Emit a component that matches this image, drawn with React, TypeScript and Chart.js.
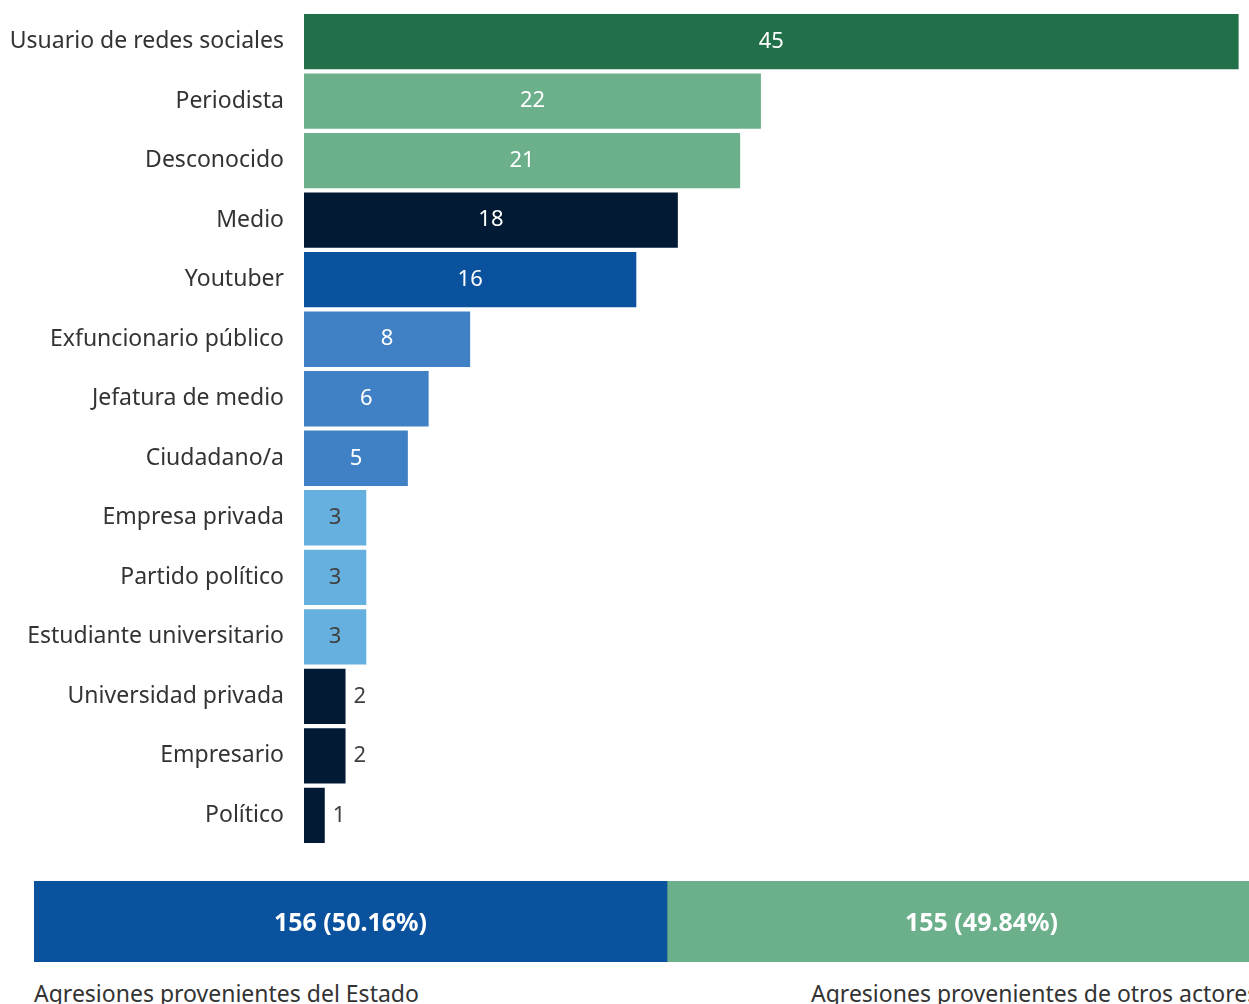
import React, { useEffect, useRef } from "react";
import { Chart, registerables } from "chart.js";

Chart.register(...registerables);

const categories = [
  "Usuario de redes sociales",
  "Periodista",
  "Desconocido",
  "Medio",
  "Youtuber",
  "Exfuncionario público",
  "Jefatura de medio",
  "Ciudadano/a",
  "Empresa privada",
  "Partido político",
  "Estudiante universitario",
  "Universidad privada",
  "Empresario",
  "Político",
];
const values = [45, 22, 21, 18, 16, 8, 6, 5, 3, 3, 3, 2, 2, 1];
const barColors = [
  "#22704A",
  "#6BAF8B",
  "#6BAF8B",
  "#021A33",
  "#0A529E",
  "#4080C4",
  "#4080C4",
  "#4080C4",
  "#66B0E0",
  "#66B0E0",
  "#66B0E0",
  "#021A33",
  "#021A33",
  "#021A33",
];
const darkTextBars = ["#66B0E0"];

const groupNames = ["Agresiones provenientes del Estado", "Agresiones provenientes de otros actores"];
const groupTotals = [156, 155];
const groupLabels = ["156 (50.16%)", "155 (49.84%)"];
const groupColors = ["#0A529E", "#6BAF8B"];

const FONT = "'Noto Sans', 'Open Sans', sans-serif";

const valueLabelPlugin = {
  id: "valueLabels",
  afterDatasetsDraw(chart: any) {
    const ctx = chart.ctx;
    const meta = chart.getDatasetMeta(0);
    ctx.save();
    ctx.font = `22px ${FONT}`;
    ctx.textBaseline = "middle";
    meta.data.forEach((bar: any, i: number) => {
      const p = bar.getProps(["x", "y", "base"], true);
      const w = p.x - p.base;
      const txt = String(values[i]);
      if (w > 50) {
        ctx.textAlign = "center";
        ctx.fillStyle = darkTextBars.includes(barColors[i]) ? "#404040" : "#FFFFFF";
        ctx.fillText(txt, (p.x + p.base) / 2, p.y);
      } else {
        ctx.textAlign = "left";
        ctx.fillStyle = "#404040";
        ctx.fillText(txt, p.x + 8, p.y);
      }
    });
    ctx.restore();
  },
};

const totalLabelPlugin = {
  id: "totalLabels",
  afterDatasetsDraw(chart: any) {
    const ctx = chart.ctx;
    ctx.save();
    ctx.font = `bold 25px ${FONT}`;
    ctx.textAlign = "center";
    ctx.textBaseline = "middle";
    ctx.fillStyle = "#FFFFFF";
    chart.data.datasets.forEach((_ds: any, di: number) => {
      const bar = chart.getDatasetMeta(di).data[0];
      const p = bar.getProps(["x", "y", "base"], true);
      ctx.fillText(groupLabels[di], (p.x + p.base) / 2, p.y + 2);
    });
    ctx.restore();
  },
};

export default function App() {
  const topRef = useRef<HTMLCanvasElement>(null);
  const botRef = useRef<HTMLCanvasElement>(null);

  useEffect(() => {
    const top = new Chart(topRef.current!, {
      type: "bar",
      data: {
        labels: categories,
        datasets: [
          {
            data: values,
            backgroundColor: barColors,
            borderWidth: 0,
            barPercentage: 0.93,
            categoryPercentage: 1,
          },
        ],
      },
      options: {
        indexAxis: "y",
        animation: false,
        responsive: false,
        maintainAspectRatio: false,
        layout: { padding: { top: 12, bottom: 15, left: 0, right: 0 } },
        plugins: { legend: { display: false }, tooltip: { enabled: false } },
        scales: {
          x: { display: false, min: 0, max: 45.5 },
          y: {
            grid: { display: false, drawTicks: false },
            border: { display: false },
            ticks: {
              padding: 20,
              color: "#333333",
              font: { family: FONT, size: 23 },
            },
            afterFit(scale: any) {
              scale.width = 304;
            },
          },
        },
      },
      plugins: [valueLabelPlugin],
    });

    const bot = new Chart(botRef.current!, {
      type: "bar",
      data: {
        labels: [""],
        datasets: groupTotals.map((v, i) => ({
          label: groupNames[i],
          data: [v],
          backgroundColor: groupColors[i],
          borderWidth: 0,
          barPercentage: 1,
          categoryPercentage: 1,
        })),
      },
      options: {
        indexAxis: "y",
        animation: false,
        responsive: false,
        maintainAspectRatio: false,
        layout: { padding: 0 },
        plugins: { legend: { display: false }, tooltip: { enabled: false } },
        scales: {
          x: { display: false, stacked: true, min: 0, max: groupTotals[0] + groupTotals[1] },
          y: { display: false, stacked: true },
        },
      },
      plugins: [totalLabelPlugin],
    });

    return () => {
      top.destroy();
      bot.destroy();
    };
  }, []);

  return (
    <div
      style={{
        position: "absolute",
        left: 0,
        top: 0,
        width: 1249,
        height: 1004,
        overflow: "hidden",
        background: "#FFFFFF",
        fontFamily: FONT,
      }}
    >
      <canvas
        ref={topRef}
        width={1249}
        height={901}
        style={{ position: "absolute", left: 0, top: -22, width: 1249, height: 901 }}
      />
      <canvas
        ref={botRef}
        width={1262}
        height={81}
        style={{ position: "absolute", left: 34, top: 881, width: 1262, height: 81 }}
      />
      <div
        style={{
          position: "absolute",
          left: 34,
          top: 978,
          fontSize: 23,
          color: "#333333",
          whiteSpace: "nowrap",
          lineHeight: "30px",
        }}
      >
        {groupNames[0]}
      </div>
      <div
        style={{
          position: "absolute",
          left: 811,
          top: 978,
          fontSize: 23,
          color: "#333333",
          whiteSpace: "nowrap",
          lineHeight: "30px",
        }}
      >
        {groupNames[1]}
      </div>
    </div>
  );
}
